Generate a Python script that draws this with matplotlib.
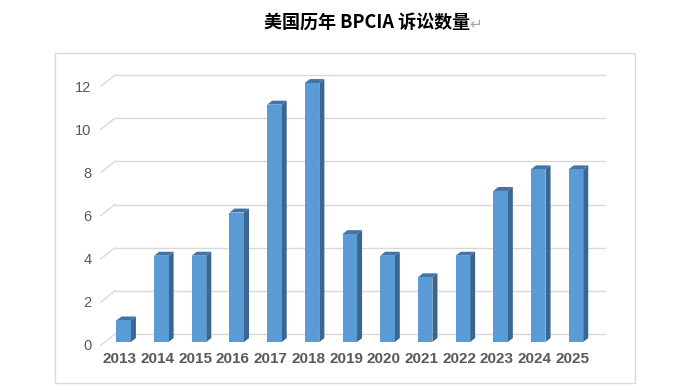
import matplotlib
matplotlib.use("Agg")
import matplotlib.pyplot as plt
from matplotlib.patches import Polygon, Rectangle
import numpy as np

years = ["2013", "2014", "2015", "2016", "2017", "2018", "2019",
         "2020", "2021", "2022", "2023", "2024", "2025"]
counts = [1, 4, 4, 6, 11, 12, 5, 4, 3, 4, 7, 8, 8]
y_ticks = [0, 2, 4, 6, 8, 10, 12]
title = "美国历年 BPCIA 诉讼数量"

W, H = 695, 390
fig = plt.figure(figsize=(W / 100, H / 100), dpi=100)

# front plane of the 3D box in pixels
px_left, px_right = 101, 591
px_y0, px_y12 = 345, 86
ax = fig.add_axes([px_left / W, 1 - px_y0 / H,
                   (px_right - px_left) / W, (px_y0 - px_y12) / H])
n = len(years)
x = np.arange(n)
ax.set_xlim(-0.5, n - 0.5)
ax.set_ylim(0, 12)

# depth offset (pixels -> data units)
xunit = (px_right - px_left) / n
yunit = (px_y0 - px_y12) / 12
depth_dx = 14 / xunit
depth_dy = 11 / yunit

grid_c = "#d9d9d9"
for t in y_ticks:
    ax.plot([-0.5, -0.5 + depth_dx], [t, t + depth_dy], color=grid_c,
            lw=1.0, clip_on=False, zorder=1)
    ax.plot([-0.5 + depth_dx, n - 0.5 + depth_dx], [t + depth_dy, t + depth_dy],
            color=grid_c, lw=1.0, clip_on=False, zorder=1)

f0, f1 = 0.27, 0.63
bw = 0.385
ox0, oy0 = f0 * depth_dx, f0 * depth_dy
ddx, ddy = (f1 - f0) * depth_dx, (f1 - f0) * depth_dy
front_c = "#5b9bd5"
side_c = "#3a6690"
top_c = "#4174a8"

ax.bar(x + ox0, counts, width=bw, bottom=oy0, color=front_c,
       zorder=3, clip_on=False, linewidth=0)
for xi, v in zip(x, counts):
    xl = xi + ox0 - bw / 2
    xr = xi + ox0 + bw / 2
    b = oy0
    tp = oy0 + v
    side = Polygon([(xr, b), (xr, tp), (xr + ddx, tp + ddy), (xr + ddx, b + ddy)],
                   closed=True, facecolor=side_c, edgecolor="none",
                   zorder=2.9, clip_on=False)
    top = Polygon([(xl, tp), (xr, tp), (xr + ddx, tp + ddy), (xl + ddx, tp + ddy)],
                  closed=True, facecolor=top_c, edgecolor="none",
                  zorder=2.9, clip_on=False)
    ax.add_patch(side)
    ax.add_patch(top)

for s in ax.spines.values():
    s.set_visible(False)
ax.set_xticks(x)
ax.set_xticklabels(years, fontsize=11, fontweight="bold", color="#595959",
                   family="Liberation Sans")
ax.set_yticks(y_ticks)
ax.set_yticklabels([str(t) for t in y_ticks], fontsize=10.5, color="#595959",
                   family="Liberation Sans")
ax.tick_params(axis="both", length=0)
ax.tick_params(axis="x", pad=5)
ax.tick_params(axis="y", pad=7)
ax.patch.set_alpha(0)

# outer chart border
fig.patches.append(Rectangle((55 / W, 1 - 383 / H), (635 - 55) / W, (383 - 53) / H,
                             transform=fig.transFigure, fill=False,
                             edgecolor="#d9d9d9", lw=1.0))

fig.text(367 / W, 1 - 22 / H, title, ha="center", va="center",
         fontsize=13, fontweight="bold", color="#000000",
         family=["Noto Sans CJK SC", "DejaVu Sans"])
fig.text(469 / W, 1 - 24 / H, "\u21b5", ha="left", va="center",
         fontsize=11, color="#a6a6a6", family=["DejaVu Sans"])

fig.savefig("out.png", dpi=100)
